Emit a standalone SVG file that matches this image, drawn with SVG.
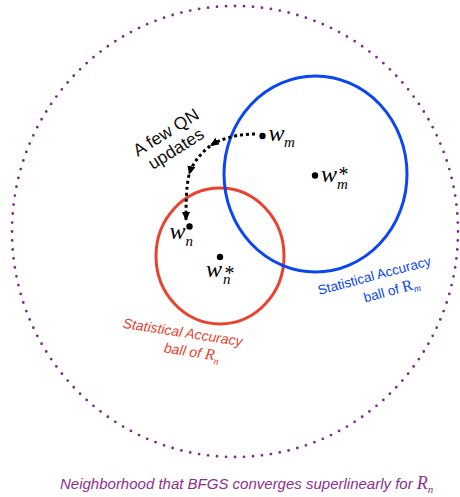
<svg xmlns="http://www.w3.org/2000/svg" width="460" height="497" viewBox="0 0 460 497">
<defs>
<style>
.sans{font-family:"Liberation Sans",Arial,sans-serif}
.math{font-family:"Liberation Serif","Times New Roman",serif;font-style:italic}
.star{font-family:"Liberation Serif","Times New Roman",serif;font-style:normal;font-size:20px}
.dot{fill:#000}
.arr{fill:none;stroke:#000;stroke-width:3;stroke-dasharray:3 3}
</style>
<marker id="ah" markerUnits="userSpaceOnUse" markerWidth="10" markerHeight="9" refX="9" refY="4" orient="auto">
<path d="M0,0 L9,4 L0,8 z" fill="#000"/>
</marker>
</defs>
<rect width="460" height="497" fill="#fff"/>

<g id="neighborhood">
<ellipse cx="235" cy="231.5" rx="223" ry="225.5" fill="none" stroke="#7e2a8c" stroke-width="2.8" stroke-linecap="round" stroke-dasharray="0 9" pathLength="1404"/>
<text class="sans" x="60" y="489" font-size="15" font-style="italic" fill="#8e2f8e">Neighborhood that BFGS converges superlinearly for <tspan class="math" font-size="18">R</tspan><tspan class="math" font-size="11" dy="4">n</tspan></text>
</g>

<g id="ball-n">
<ellipse cx="220" cy="256" rx="64" ry="68" fill="none" stroke="#e8432f" stroke-width="3"/>
<g transform="translate(182,337) rotate(8.8)" fill="#e8432f" font-size="14">
<text class="sans" x="0" y="0" text-anchor="middle" font-style="italic">Statistical Accuracy</text>
<text class="sans" x="12" y="18" text-anchor="middle" font-style="italic">ball of  <tspan class="math" font-size="16">R</tspan><tspan class="math" font-size="10" dy="4">n</tspan></text>
</g>
</g>

<g id="ball-m">
<ellipse cx="315.5" cy="174" rx="91.5" ry="98" fill="none" stroke="#0b46f2" stroke-width="3"/>
<g transform="translate(375.5,280) rotate(-15)" fill="#0b46f2" font-size="13.5">
<text class="sans" x="0" y="0" text-anchor="middle">Statistical Accuracy</text>
<text class="sans" x="13" y="19" text-anchor="middle">ball of  <tspan font-family="Liberation Serif,serif" font-size="16">R</tspan><tspan class="math" font-size="10" dy="3">m</tspan></text>
</g>
</g>

<g id="w-m">
<circle class="dot" cx="262.5" cy="136" r="3.2"/>
<text class="math" x="268.5" y="140.5" font-size="24">w<tspan x="284" y="147" font-size="15">m</tspan></text>
</g>

<g id="w-m-star">
<circle class="dot" cx="315" cy="175.5" r="3.2"/>
<text class="math" x="321" y="182" font-size="24">w<tspan class="star" x="338.5" y="181">*</tspan><tspan x="337" y="189" font-size="15">m</tspan></text>
</g>

<g id="w-n">
<circle class="dot" cx="189.5" cy="226.5" r="3.2"/>
<text class="math" x="169.5" y="238.5" font-size="24">w<tspan x="185.5" y="246" font-size="15">n</tspan></text>
</g>

<g id="w-n-star">
<circle class="dot" cx="220" cy="257" r="3.2"/>
<text class="math" x="206" y="277" font-size="24">w<tspan class="star" x="224.5" y="279.5">*</tspan><tspan x="223" y="284" font-size="15">n</tspan></text>
</g>

<g id="qn-label">
<g transform="translate(169,137.5) rotate(-32)" class="sans" font-size="17.5" fill="#111" text-anchor="middle">
<text x="0" y="0">A few QN</text>
<text x="0" y="19">updates</text>
</g>
</g>

<g id="connectors">
<path class="arr" d="M255,134 C238,134 222,138 210,146" marker-end="url(#ah)"/>
<path class="arr" d="M210,146 C200,154 192,164 189,175" marker-end="url(#ah)"/>
<path class="arr" d="M189,175 C186,188 186,205 186,221" marker-end="url(#ah)"/>
</g>
</svg>
